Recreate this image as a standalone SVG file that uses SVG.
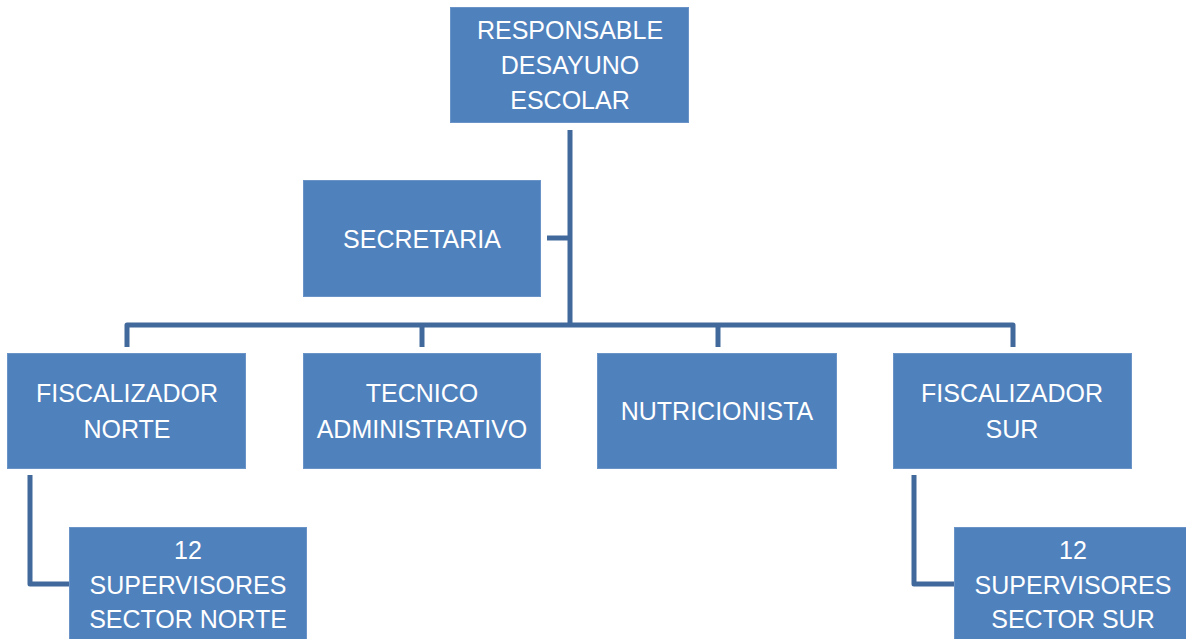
<svg xmlns="http://www.w3.org/2000/svg" width="1186" height="639" viewBox="0 0 1186 639">
<style>
.box{fill:#4F81BD;stroke:#6A94C8;stroke-width:1}
.t{font-family:"Liberation Sans",Arial,sans-serif;font-size:25px;fill:#FFFFFF;text-anchor:middle}
.c{fill:none;stroke:#41699C;stroke-width:5;stroke-linejoin:round}
</style>
<rect width="1186" height="639" fill="#FFFFFF"/>
<g id="connectors">
<path class="c" d="M570,130 V325"/>
<path class="c" d="M547,238 H570"/>
<path class="c" d="M127,347 V325 H1013 V347"/>
<path class="c" d="M422,325 V347"/>
<path class="c" d="M718,325 V347"/>
<path class="c" d="M30,475 V584 H69"/>
<path class="c" d="M914,475 V584 H954"/>
</g>
<g id="responsable">
<rect class="box" x="450.5" y="7.5" width="238" height="115"/>
<text class="t" x="570" y="39">RESPONSABLE</text>
<text class="t" x="570" y="74">DESAYUNO</text>
<text class="t" x="570" y="109">ESCOLAR</text>
</g>
<g id="secretaria">
<rect class="box" x="303.5" y="180.5" width="237" height="116"/>
<text class="t" x="422" y="248">SECRETARIA</text>
</g>
<g id="fiscalizador-norte">
<rect class="box" x="7.5" y="353.5" width="238" height="115"/>
<text class="t" x="127" y="402">FISCALIZADOR</text>
<text class="t" x="127" y="438">NORTE</text>
</g>
<g id="tecnico">
<rect class="box" x="303.5" y="353.5" width="237" height="115"/>
<text class="t" x="422" y="402">TECNICO</text>
<text class="t" x="422" y="438">ADMINISTRATIVO</text>
</g>
<g id="nutricionista">
<rect class="box" x="597.5" y="353.5" width="239" height="115"/>
<text class="t" x="717" y="420">NUTRICIONISTA</text>
</g>
<g id="fiscalizador-sur">
<rect class="box" x="893.5" y="353.5" width="238" height="115"/>
<text class="t" x="1012" y="402">FISCALIZADOR</text>
<text class="t" x="1012" y="438">SUR</text>
</g>
<g id="supervisores-norte">
<rect class="box" x="69.5" y="527.5" width="237" height="120"/>
<text class="t" x="188" y="559">12</text>
<text class="t" x="188" y="594">SUPERVISORES</text>
<text class="t" x="188" y="628">SECTOR NORTE</text>
</g>
<g id="supervisores-sur">
<rect class="box" x="954.5" y="527.5" width="238" height="120"/>
<text class="t" x="1073" y="559">12</text>
<text class="t" x="1073" y="594">SUPERVISORES</text>
<text class="t" x="1073" y="628">SECTOR SUR</text>
</g>
</svg>
